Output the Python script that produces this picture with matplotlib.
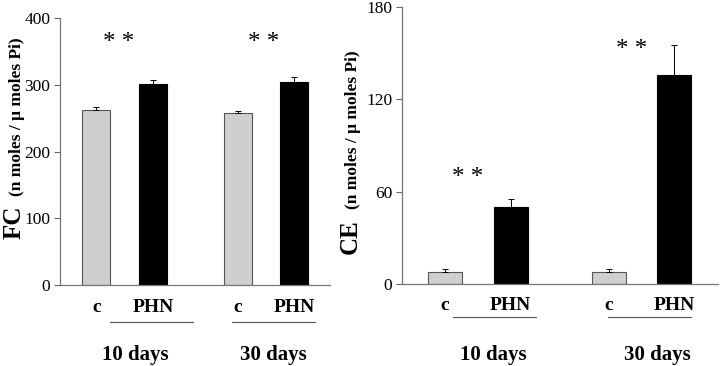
import matplotlib
matplotlib.use("Agg")
import matplotlib.pyplot as plt

# data
groups = ['10 days', '30 days']
conds = ['c', 'PHN']
fc_vals = [262, 301, 258, 304]
fc_err = [4, 6, 2, 7]
ce_vals = [8, 50, 8, 136]
ce_err = [1.5, 5, 1.5, 19]
fc_stars = [362, 362]
ce_stars = [69, 152]

pos = [0, 1, 2.5, 3.5]
colors = ['#cfcfcf', 'black', '#cfcfcf', 'black']
edges = ['#555555', 'black', '#555555', 'black']

plt.rcParams['font.family'] = ['Liberation Serif', 'DejaVu Serif']

fig = plt.figure(figsize=(7.2, 3.66), dpi=100)

def panel(rect, vals, err, ylim, yticks, stars, star_x, xlim, width, line_spans, day_x,
          lab_y, line_y, day_y):
    ax = fig.add_axes(rect)
    ax.bar(pos, vals, width=width, color=colors, edgecolor=edges, linewidth=0.8, zorder=2)
    ax.errorbar(pos, vals, yerr=[[0] * 4, err], fmt='none', ecolor='black',
                elinewidth=0.7, capsize=2, capthick=0.7, zorder=3)
    ax.set_xlim(*xlim)
    ax.set_ylim(*ylim)
    ax.set_yticks(yticks)
    ax.tick_params(axis='y', labelsize=12.5, length=4, width=0.8, color='#666666', pad=3)
    ax.set_xticks([])
    for s in ['top', 'right']:
        ax.spines[s].set_visible(False)
    for s in ['left', 'bottom']:
        ax.spines[s].set_color('#777777')
        ax.spines[s].set_linewidth(0.9)
    tr = ax.get_xaxis_transform()
    for i, p in enumerate(pos):
        ax.text(p, lab_y, conds[i % 2], transform=tr, ha='center', va='center',
                fontsize=14, fontweight='bold')
    for (a, b) in line_spans:
        ax.plot([a, b], [line_y, line_y], transform=tr, color='#555555', lw=0.8,
                clip_on=False)
    for g, x in zip(groups, day_x):
        ax.text(x, day_y, g, transform=tr, ha='center', va='center',
                fontsize=15, fontweight='bold')
    for x, y in zip(star_x, stars):
        ax.text(x, y, '* *', ha='center', va='center', fontsize=18)
    return ax

panel([0.0833, 0.2213, 0.375, 0.7295], fc_vals, fc_err, (0, 400), [0, 100, 200, 300, 400],
      fc_stars, [0.4, 2.95], (-0.64, 4.13), 0.5,
      [(0.25, 1.71), (2.4, 3.87)], [0.69, 3.13], -0.086, -0.139, -0.262)

panel([0.5583, 0.224, 0.4389, 0.757], ce_vals, ce_err, (0, 180), [0, 60, 120, 180],
      ce_stars, [0.35, 2.85], (-0.66, 4.17), 0.52,
      [(0.12, 1.39), (2.49, 3.76)], [0.73, 3.25], -0.076, -0.119, -0.256)

# y labels: big bold abbreviation + smaller unit text
def ylab(x, y0, y1, big, small):
    fig.text(x / 720, 1 - y0 / 366, big, rotation=90, rotation_mode='anchor',
             ha='left', va='baseline', fontsize=18, fontweight='bold')
    fig.text(x / 720, 1 - y1 / 366, small, rotation=90, rotation_mode='anchor',
             ha='left', va='baseline', fontsize=12.5, fontweight='bold')

ylab(21, 239, 196, 'FC', '(n moles / μ moles Pi)')
ylab(357, 254, 209, 'CE', '(n moles / μ moles Pi)')

fig.savefig('out.png', dpi=100, facecolor='white')
